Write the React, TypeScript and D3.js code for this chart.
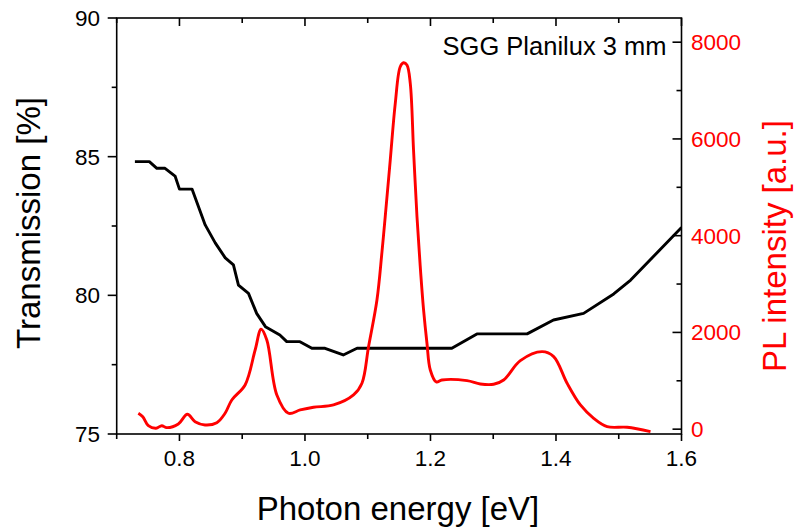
import React from "react";
import * as d3 from "d3";

// Transmission (black, left axis) — photon energy [eV], transmission [%]
const transEnergy = [0.729, 0.752, 0.764, 0.777, 0.793, 0.8, 0.82, 0.841, 0.857, 0.873, 0.886, 0.894, 0.91, 0.923, 0.937, 0.96, 0.971, 0.992, 1.011, 1.032, 1.061, 1.083, 1.152, 1.234, 1.274, 1.354, 1.396, 1.444, 1.492, 1.519, 1.551, 1.6];
const transValue = [84.82, 84.82, 84.58, 84.58, 84.3, 83.83, 83.83, 82.54, 81.89, 81.35, 81.1, 80.37, 80.07, 79.35, 78.87, 78.57, 78.33, 78.33, 78.09, 78.09, 77.85, 78.09, 78.09, 78.09, 78.61, 78.61, 79.11, 79.35, 80.05, 80.55, 81.3, 82.45];

// PL intensity (red, right axis)
const plEnergy = [0.7345, 0.7415, 0.7504, 0.7627, 0.7718, 0.7797, 0.7982, 0.8126, 0.8249, 0.8408, 0.8595, 0.8727, 0.8834, 0.9046, 0.9206, 0.9301, 0.9392, 0.9552, 0.9737, 0.9924, 1.0136, 1.0455, 1.0774, 1.0908, 1.1013, 1.1147, 1.1226, 1.1279, 1.1359, 1.1439, 1.1518, 1.1571, 1.1625, 1.1678, 1.173, 1.1785, 1.1837, 1.189, 1.1944, 1.1997, 1.2093, 1.2183, 1.2582, 1.2794, 1.3006, 1.3166, 1.3432, 1.3778, 1.3963, 1.4177, 1.4389, 1.4601, 1.4815, 1.5134, 1.5506];
const plValue = [329, 258, 72, 19, 72, 31, 107, 308, 155, 87, 134, 329, 604, 914, 1637, 2065, 1844, 707, 329, 397, 453, 500, 707, 949, 1705, 2671, 3650, 4393, 5564, 6736, 7493, 7576, 7528, 7150, 5771, 4392, 3359, 2464, 1776, 1224, 976, 1017, 1003, 934, 928, 1017, 1416, 1602, 1499, 949, 500, 225, 52, 39, -52];

const xTicksMajor = [0.8, 1.0, 1.2, 1.4, 1.6];
const xTicksAll = [0.7, 0.8, 0.9, 1.0, 1.1, 1.2, 1.3, 1.4, 1.5, 1.6];
const leftTicksMajor = [75, 80, 85, 90];
const leftTicksMinor = [77.5, 82.5, 87.5];
const rightTicksMajor = [0, 2000, 4000, 6000, 8000];
const rightTicksMinor = [1000, 3000, 5000, 7000];

const FONT = "'Liberation Sans', Arial, Helvetica, sans-serif";

export default function App() {
  const W = 794, H = 528;
  const L = 116.7, R = 681.5, T = 18, B = 434;
  const x = d3.scaleLinear().domain([0.7, 1.6]).range([L, R]);
  const yL = d3.scaleLinear().domain([75, 90]).range([B, T]);
  const yR = d3.scaleLinear().domain([-100, 8500]).range([B, T]);

  const transLine = d3.line<number>()
    .x((_, i) => x(transEnergy[i]))
    .y((d) => yL(d))
    .curve(d3.curveLinear)(transValue) || "";
  const plLine = d3.line<number>()
    .x((_, i) => x(plEnergy[i]))
    .y((d) => yR(d))
    .curve(d3.curveCatmullRom.alpha(0.5))(plValue) || "";

  const isMajorX = (v: number) => xTicksMajor.some((m) => Math.abs(m - v) < 1e-6);

  return (
    <svg width={W} height={H} style={{ position: "absolute", left: 0, top: 0, background: "#fff" }} fontFamily={FONT}>
      <rect x={0} y={0} width={W} height={H} fill="#fff" />
      <defs>
        <clipPath id="plot">
          <rect x={L} y={T} width={R - L} height={B - T} />
        </clipPath>
      </defs>
      <g clipPath="url(#plot)">
        <path d={transLine} fill="none" stroke="#000" strokeWidth={2.9} strokeLinejoin="round" />
        <path d={plLine} fill="none" stroke="#ff0000" strokeWidth={2.9} strokeLinejoin="round" />
      </g>
      <rect x={L} y={T} width={R - L} height={B - T} fill="none" stroke="#000" strokeWidth={1.6} />
      {xTicksAll.map((v) => (
        <g key={"xt" + v}>
          <line x1={x(v)} x2={x(v)} y1={B} y2={B + (isMajorX(v) ? 7 : 5)} stroke="#000" strokeWidth={1.6} />
          <line x1={x(v)} x2={x(v)} y1={T} y2={T + (isMajorX(v) ? 8 : 5)} stroke="#000" strokeWidth={1.6} />
        </g>
      ))}
      {xTicksMajor.map((v) => (
        <text key={"xl" + v} x={x(v)} y={466} fontSize={22.5} textAnchor="middle" fill="#000">
          {d3.format(".1f")(v)}
        </text>
      ))}
      {leftTicksMajor.map((v) => (
        <g key={"lt" + v}>
          <line x1={L - 9} x2={L} y1={yL(v)} y2={yL(v)} stroke="#000" strokeWidth={1.6} />
          <text x={100} y={yL(v) + 8} fontSize={22.5} textAnchor="end" fill="#000">{v}</text>
        </g>
      ))}
      {leftTicksMinor.map((v) => (
        <line key={"lm" + v} x1={L - 5} x2={L} y1={yL(v)} y2={yL(v)} stroke="#000" strokeWidth={1.6} />
      ))}
      {rightTicksMajor.map((v) => (
        <g key={"rt" + v}>
          <line x1={R - 9} x2={R} y1={yR(v)} y2={yR(v)} stroke="#000" strokeWidth={1.6} />
          <text x={691} y={yR(v) + 8} fontSize={22.5} textAnchor="start" fill="#ff0000">{v}</text>
        </g>
      ))}
      {rightTicksMinor.map((v) => (
        <line key={"rm" + v} x1={R - 5} x2={R} y1={yR(v)} y2={yR(v)} stroke="#000" strokeWidth={1.6} />
      ))}
      <text x={398} y={520} fontSize={33} textAnchor="middle" fill="#000">Photon energy [eV]</text>
      <text transform={`translate(40,223) rotate(-90)`} fontSize={33} textAnchor="middle" fill="#000">Transmission [%]</text>
      <text transform={`translate(786,246) rotate(-90)`} fontSize={33} textAnchor="middle" fill="#ff0000">PL intensity [a.u.]</text>
      <text x={666.5} y={55} fontSize={25.5} textAnchor="end" fill="#000">SGG Planilux 3 mm</text>
    </svg>
  );
}
